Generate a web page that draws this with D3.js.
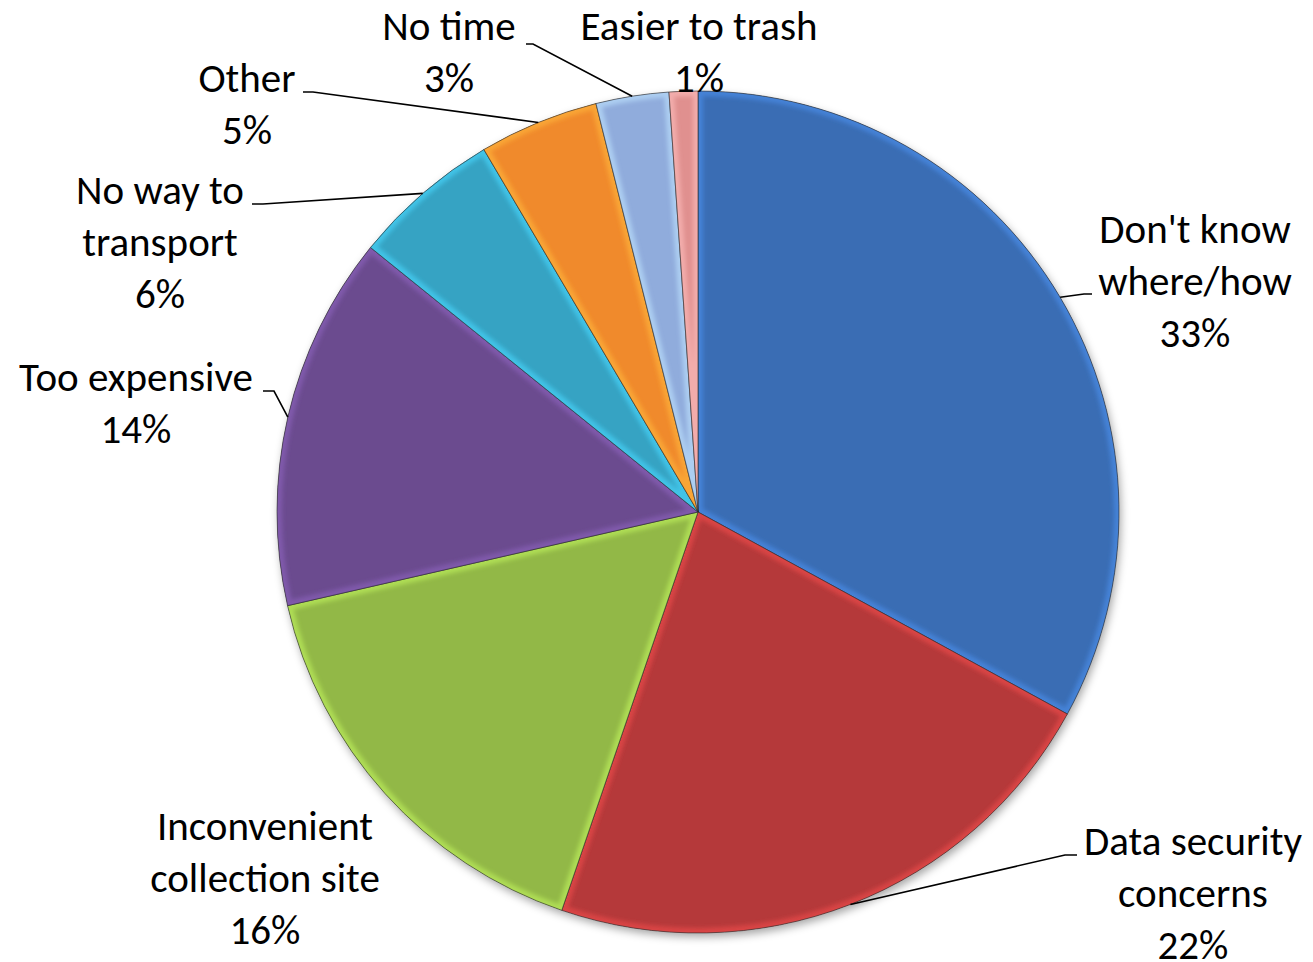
<!DOCTYPE html>
<html>
<head>
<meta charset="utf-8">
<script src="https://cdn.jsdelivr.net/npm/d3@7"></script>
<style>
  html, body { margin: 0; padding: 0; background: #fff; }
  svg { display: block; }
  text { font-family: Carlito, Lato, "Open Sans", sans-serif; fill: #000; }
</style>
</head>
<body>
<svg id="chart" width="1313" height="962"></svg>
<script>
// ---- data ----
const categories = [
  "Don't know where/how",
  "Data security concerns",
  "Inconvenient collection site",
  "Too expensive",
  "No way to transport",
  "Other",
  "No time",
  "Easier to trash"
];
const values = [33.0, 22.3, 16.2, 14.4, 5.7, 4.6, 2.8, 1.1];
const labelLines = [
  ["Don't know", "where/how"],
  ["Data security", "concerns"],
  ["Inconvenient", "collection site"],
  ["Too expensive"],
  ["No way to", "transport"],
  ["Other"],
  ["No time"],
  ["Easier to trash"]
];
const colors = ["#3a6db4", "#b5393a", "#92b847", "#6b4b8f", "#36a3c3", "#f08a2c", "#90acdc", "#e0908f"];

// ---- layout (label positions: center x, first baseline y; leader elbow & end) ----
const labelLayout = [
  { x: 1195, y: 243, elbow: [1084, 294], end: [1092, 294] },
  { x: 1193, y: 855, elbow: [1065, 855], end: [1077, 855] },
  { x: 265,  y: 840, elbow: null, end: null },
  { x: 136,  y: 391, elbow: [274, 391], end: [263, 391] },
  { x: 160,  y: 204, elbow: [263, 204], end: [252, 204] },
  { x: 247,  y: 92,  elbow: [313, 92],  end: [303, 92] },
  { x: 449,  y: 40,  elbow: [533, 44],  end: [526, 44] },
  { x: 699,  y: 40,  elbow: null, end: null }
];

const cx = 698, cy = 512, R = 421;
const fontSize = 41, lineH = 52;

const svg = d3.select("#chart");
const defs = svg.append("defs");

const shadow = defs.append("filter").attr("id", "shadow")
  .attr("x", "-10%").attr("y", "-10%").attr("width", "120%").attr("height", "125%");
shadow.append("feDropShadow").attr("dx", 2).attr("dy", 4)
  .attr("stdDeviation", 4).attr("flood-color", "#000").attr("flood-opacity", 0.35);

const blur = defs.append("filter").attr("id", "soft");
blur.append("feGaussianBlur").attr("stdDeviation", 2.2);

const pie = d3.pie().sort(null).value(d => d);
const arcs = pie(values);
const arc = d3.arc().innerRadius(0).outerRadius(R);

const g = svg.append("g").attr("transform", `translate(${cx},${cy})`);

// shadow base
g.append("circle").attr("r", R).attr("fill", "#888").attr("filter", "url(#shadow)");

arcs.forEach((a, i) => {
  defs.append("clipPath").attr("id", "clip" + i)
    .append("path").attr("d", arc(a));
});

const slices = g.selectAll("g.slice").data(arcs).join("g").attr("class", "slice");

slices.append("path")
  .attr("d", arc)
  .attr("fill", (d, i) => colors[i]);

// bevel highlight
slices.append("g")
  .attr("clip-path", (d, i) => `url(#clip${i})`)
  .append("path")
  .attr("d", arc)
  .attr("fill", "none")
  .attr("stroke", (d, i) => d3.color(colors[i]).brighter(0.8))
  .attr("stroke-width", 10)
  .attr("stroke-opacity", 0.6)
  .attr("filter", "url(#soft)");

// outline
slices.append("path")
  .attr("d", arc)
  .attr("fill", "none")
  .attr("stroke", "#2a2a2a")
  .attr("stroke-opacity", 0.6)
  .attr("stroke-width", 1);

// leader lines
const total = d3.sum(values);
arcs.forEach((a, i) => {
  const L = labelLayout[i];
  if (!L.end) return;
  const mid = (a.startAngle + a.endAngle) / 2;
  const px = cx + R * Math.sin(mid);
  const py = cy - R * Math.cos(mid);
  svg.append("polyline")
    .attr("points", [[px, py], L.elbow, L.end].map(p => p.join(",")).join(" "))
    .attr("fill", "none")
    .attr("stroke", "#000")
    .attr("stroke-width", 1.6);
});

// labels
arcs.forEach((a, i) => {
  const L = labelLayout[i];
  const lines = labelLines[i].concat([Math.round(values[i] / total * 100) + "%"]);
  const t = svg.append("text")
    .attr("x", L.x).attr("y", L.y)
    .attr("text-anchor", "middle")
    .attr("font-size", fontSize);
  lines.forEach((s, k) => {
    t.append("tspan").attr("x", L.x).attr("y", L.y + k * lineH).text(s);
  });
});
</script>
</body>
</html>
